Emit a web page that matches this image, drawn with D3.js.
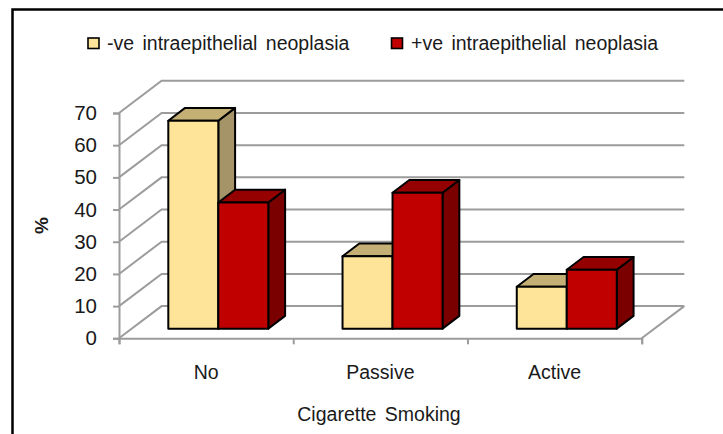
<!DOCTYPE html>
<html>
<head>
<meta charset="utf-8">
<script src="https://cdn.jsdelivr.net/npm/d3@7"></script>
<style>
html, body { margin: 0; padding: 0; background: #fff; }
svg { display: block; }
text { font-family: "Liberation Sans", Arial, sans-serif; fill: #1a1a1a; }
</style>
</head>
<body>
<svg id="chart" width="723" height="434"></svg>
<script>
// Percentages by smoking status
const categories = ["No", "Passive", "Active"];
const negativeValues = [64.6, 22.5, 13];
const positiveValues = [39.2, 42.2, 18.3];
const seriesNames = ["-ve intraepithelial neoplasia", "+ve intraepithelial neoplasia"];
const yTicks = [0, 10, 20, 30, 40, 50, 60, 70];
const xTitle = "Cigarette Smoking";
const yTitle = "%";

const svg = d3.select("#chart");

// Oblique projection of the chart box
const plotLeft = 119, plotRight = 641.7, plotBottom = 338.3, plotTop = 113;
const depthX = 42.6, depthY = -32.2;
const barDepthStart = 0.3;
const barOffset = 49.3;
const barWidth = 50;

const x = d3.scaleBand().domain(categories).range([plotLeft, plotRight]);
const y = d3.scaleLinear().domain([0, 70]).range([plotBottom, plotTop]);

const palette = [
  { front: "#FDE499", top: "#C4AF74", side: "#A49468" },
  { front: "#C00000", top: "#950000", side: "#7A0000" }
];
const gridColor = "#9c9c9c";
const line = d3.line();

// Frame around the figure
svg.append("path")
  .attr("d", line([[12.5, 434], [12.5, 9.5], [723, 9.5]]))
  .attr("fill", "none").attr("stroke", "#000").attr("stroke-width", 2.5);

// Gridlines on the left wall and back wall
const grid = svg.append("g").attr("fill", "none").attr("stroke", gridColor).attr("stroke-width", 2);
grid.selectAll("path").data(yTicks).join("path")
  .attr("d", d => line([
    [plotLeft, y(d)],
    [plotLeft + depthX, y(d) + depthY],
    [plotRight + depthX, y(d) + depthY]
  ]));
// Right edge of the floor
grid.append("path").attr("d", line([
  [plotRight, plotBottom],
  [plotRight + depthX, plotBottom + depthY]
]));

// Axes
const yAxis = svg.append("g")
  .attr("transform", `translate(${plotLeft},0)`)
  .call(d3.axisLeft(y).tickValues(yTicks).tickSize(6).tickPadding(16));
const xEdges = categories.map(c => x(c)).concat(plotRight);
const xAxis = svg.append("g")
  .attr("transform", `translate(0,${plotBottom})`)
  .call(d3.axisBottom(d3.scaleLinear().domain([plotLeft, plotRight]).range([plotLeft, plotRight]))
    .tickValues(xEdges).tickSize(6).tickFormat(""));
[yAxis, xAxis].forEach(a => {
  a.selectAll("path,line").attr("stroke", gridColor).attr("stroke-width", 2);
});
yAxis.selectAll("text").attr("font-size", 20.5).attr("fill", "#1a1a1a").style("font-family", "Liberation Sans");

// Category labels
svg.append("g").selectAll("text").data(categories).join("text")
  .attr("x", d => x(d) + x.bandwidth() / 2)
  .attr("y", 378.5)
  .attr("text-anchor", "middle")
  .attr("font-size", 19.5)
  .text(d => d);

// Draws one box: side and top faces first, then the front face
function drawBar(g, x0, value, colors) {
  const base = plotBottom + depthY * barDepthStart;
  const h = y(0) - y(value);
  const x1 = x0 + barWidth;
  const topY = base - h;
  const dx = 16.8, dy = -12.8;
  const faces = [
    { pts: [[x1, topY], [x1 + dx, topY + dy], [x1 + dx, base + dy], [x1, base]], fill: colors.side },
    { pts: [[x0, topY], [x0 + dx, topY + dy], [x1 + dx, topY + dy], [x1, topY]], fill: colors.top },
    { pts: [[x0, topY], [x1, topY], [x1, base], [x0, base]], fill: colors.front }
  ];
  g.selectAll(null).data(faces).join("path")
    .attr("d", f => line(f.pts) + "Z")
    .attr("fill", f => f.fill)
    .attr("stroke", "#000")
    .attr("stroke-width", 2)
    .attr("stroke-linejoin", "round");
}

// Bars, painted left to right so nearer faces cover farther ones
const bars = svg.append("g");
categories.forEach((c, i) => {
  const x0 = x(c) + barOffset;
  drawBar(bars.append("g"), x0, negativeValues[i], palette[0]);
  drawBar(bars.append("g"), x0 + barWidth, positiveValues[i], palette[1]);
});

// Legend
const legendPos = [{ box: 88, text: 107 }, { box: 391.5, text: 411 }];
const legend = svg.append("g").selectAll("g").data(seriesNames).join("g");
legend.append("rect")
  .attr("x", (d, i) => legendPos[i].box).attr("y", 38)
  .attr("width", 11).attr("height", 10.5)
  .attr("fill", (d, i) => palette[i].front)
  .attr("stroke", "#000").attr("stroke-width", 1.6);
legend.append("text")
  .attr("x", (d, i) => legendPos[i].text).attr("y", 49.5)
  .attr("font-size", 19.5).attr("word-spacing", 3)
  .text(d => d);

// Axis titles
svg.append("text")
  .attr("x", 379).attr("y", 420.5)
  .attr("text-anchor", "middle").attr("font-size", 19.5).attr("word-spacing", 3)
  .text(xTitle);
svg.append("text")
  .attr("transform", "translate(47.5,225.5) rotate(-90)")
  .attr("text-anchor", "middle").attr("font-size", 19).attr("font-weight", "bold")
  .text(yTitle);
</script>
</body>
</html>
